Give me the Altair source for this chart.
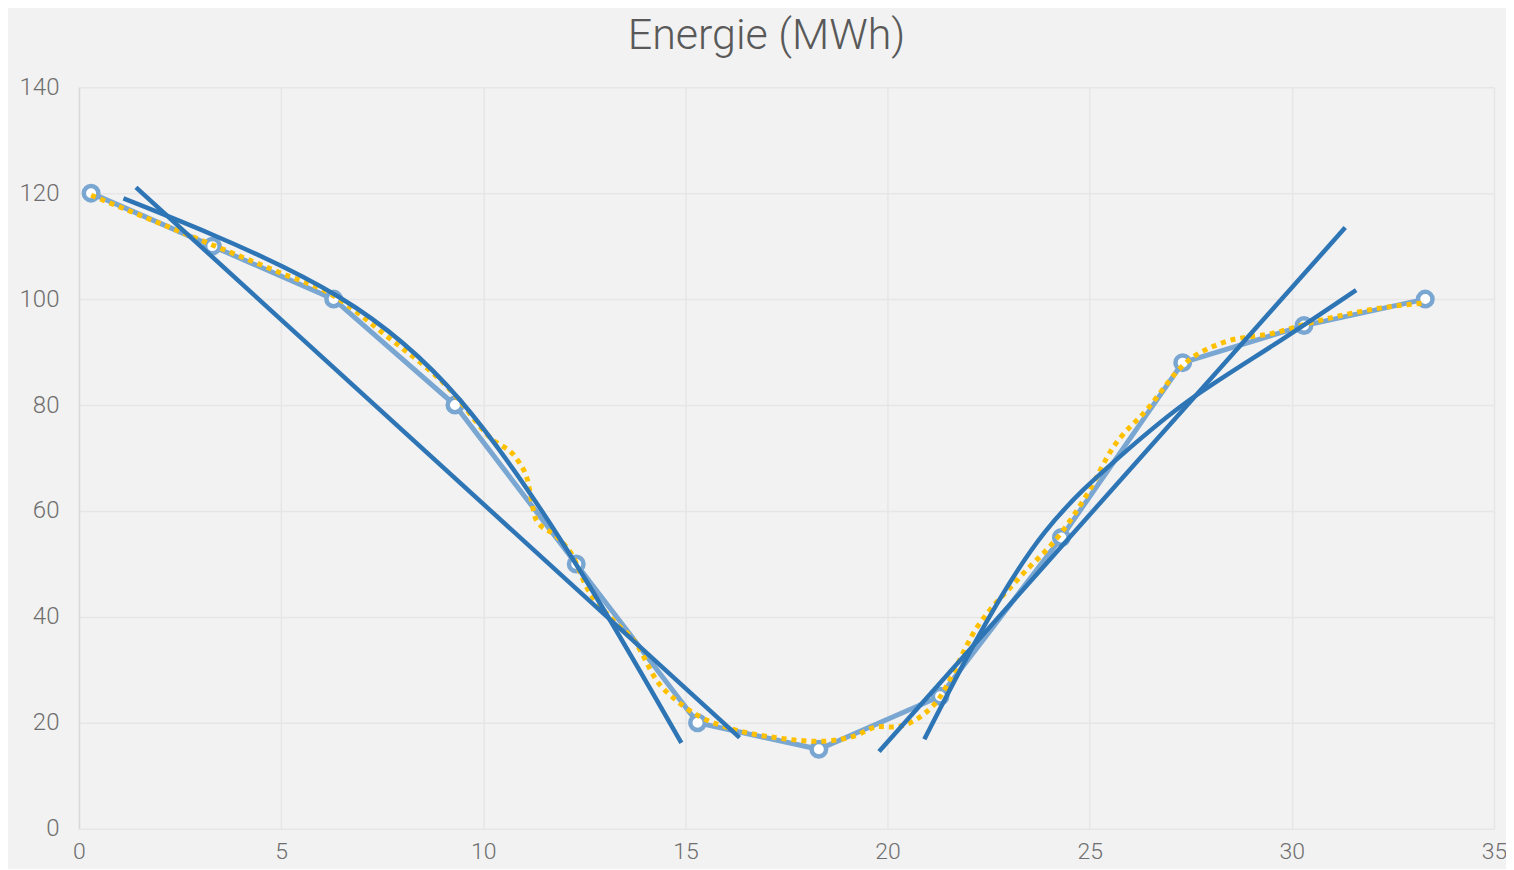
import altair as alt
import pandas as pd

# Main series
x_pts = [0.3, 3.3, 6.3, 9.3, 12.3, 15.3, 18.3, 21.3, 24.3, 27.3, 30.3, 33.3]
y_pts = [120, 110, 100, 80, 50, 20, 15, 25, 55, 88, 95, 100]

# Smoothed (dotted yellow) series
smooth_x = [0.3, 3.31, 5.0, 6.19, 7.63, 9.19, 10.15, 10.9, 11.07, 11.31, 11.81, 12.22, 12.55,
            13.21, 13.78, 14.28, 14.86, 15.35, 16.09, 17.33, 18.32, 19.14, 19.8, 20.1, 21.16,
            22.21, 23.26, 24.31, 24.94, 25.57, 26.41, 27.35, 28.3, 29.56, 30.4, 32.18, 33.3]
smooth_y = [119.6, 110.2, 104.9, 101.1, 92.9, 82.8, 74.0, 69.0, 66.5, 58.3, 55.2, 51.4, 45.7,
            39.4, 35.0, 28.1, 23.7, 21.2, 19.0, 17.1, 16.5, 17.4, 19.3, 19.2, 23.5,
            38.0, 47.4, 56.0, 63.2, 71.9, 79.1, 87.8, 91.8, 93.6, 95.4, 98.3, 99.3]

# Trend lines (dark blue)
trend_a_x = [1.41, 16.34]
trend_a_y = [121.1, 17.2]
trend_b_x = [1.1, 3.32, 6.43, 9.43, 12.38, 14.9]
trend_b_y = [119.0, 112.1, 100.4, 80.9, 48.9, 16.2]
trend_c_x = [19.79, 31.32]
trend_c_y = [14.6, 113.5]
trend_d_x = [20.91, 22.21, 23.89, 25.78, 27.46, 29.56, 31.59]
trend_d_y = [16.9, 35.8, 56.0, 70.5, 80.9, 91.4, 101.7]

main_df = pd.DataFrame({"x": x_pts, "y": y_pts})
smooth_df = pd.DataFrame({"x": smooth_x, "y": smooth_y})


def seg_df(segs):
    rows = []
    for name, xs, ys in segs:
        for i, (xv, yv) in enumerate(zip(xs, ys)):
            rows.append({"seg": name, "x": xv, "y": yv, "o": i})
    return pd.DataFrame(rows)


straight_df = seg_df([("a", trend_a_x, trend_a_y), ("c", trend_c_x, trend_c_y)])
curve_df = seg_df([("b", trend_b_x, trend_b_y), ("d", trend_d_x, trend_d_y)])

FONT = "Roboto, Liberation Sans, sans-serif"

xscale = alt.Scale(domain=[0, 35], nice=False, zero=False)
yscale = alt.Scale(domain=[0, 140], nice=False)

xaxis = alt.Axis(values=[0, 5, 10, 15, 20, 25, 30, 35], title=None, grid=True, labelFlush=False,
                 ticks=False, domain=False, labelPadding=12, labelFontSize=23)
yaxis = alt.Axis(values=[0, 20, 40, 60, 80, 100, 120, 140], title=None, grid=True,
                 ticks=False, domain=True, labelPadding=20, labelFontSize=24)

X = alt.X("x:Q", scale=xscale, axis=xaxis)
Y = alt.Y("y:Q", scale=yscale, axis=yaxis)

main_line = alt.Chart(main_df).mark_line(color="#7AA6D2", strokeWidth=5).encode(x=X, y=Y)
main_pts = alt.Chart(main_df).mark_point(shape="circle", filled=False, fill="white", fillOpacity=1,
                                          stroke="#7AA6D2", strokeWidth=4.5, size=210, opacity=1).encode(x=X, y=Y)
smooth_line = alt.Chart(smooth_df).mark_line(color="#FFC000", strokeWidth=5, strokeDash=[5, 5],
                                             interpolate="monotone").encode(x=X, y=Y)
straight_line = alt.Chart(straight_df).mark_line(color="#2E75B6", strokeWidth=4.5).encode(
    x=X, y=Y, detail="seg:N", order="o:Q")
curve_line = alt.Chart(curve_df).mark_line(color="#2E75B6", strokeWidth=4.5, interpolate="natural").encode(
    x=X, y=Y, detail="seg:N", order="o:Q")

chart = alt.layer(main_line, main_pts, smooth_line, straight_line, curve_line).properties(
    width=1416, height=742,
    title=alt.TitleParams("Energie (MWh)", fontSize=43, color="#595959", font=FONT,
                          fontWeight=300, anchor="middle", dx=-20, offset=17),
    autosize=alt.AutoSizeParams(type="none"),
    padding={"left": 71, "top": 79, "right": 12, "bottom": 40},
    background="#F2F2F2",
).configure_view(stroke=None).configure_axis(
    labelFont=FONT,
    labelFontWeight=300,
    labelColor="#6E6E6E",
    gridColor="#E6E6E6",
    gridWidth=1.5,
    domainColor="#D9D9D9",
    domainWidth=1.5,
)

chart.save("out.html", embed_options={"renderer": "svg", "actions": False})
